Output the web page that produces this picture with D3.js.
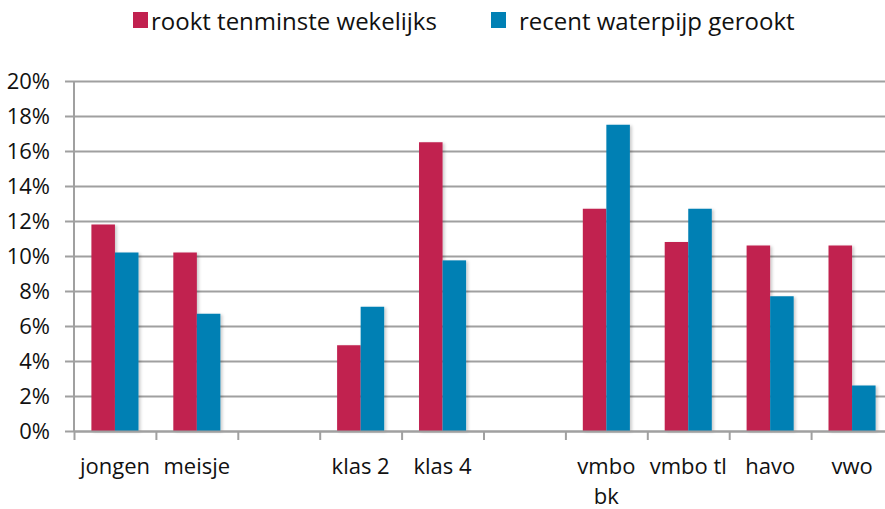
<!DOCTYPE html>
<html>
<head>
<meta charset="utf-8">
<script src="https://cdn.jsdelivr.net/npm/d3@7"></script>
<style>
  body { margin: 0; background: #fff; }
  text { font-family: "Open Sans", sans-serif; fill: #111; }
</style>
</head>
<body>
<svg id="chart" width="885" height="509"></svg>
<script>
// categories (empty strings are the gaps between groups)
var categories = ["jongen", "meisje", "", "klas 2", "klas 4", "", "vmbo bk", "vmbo tl", "havo", "vwo"];
var seriesNames = ["rookt tenminste wekelijks", "recent waterpijp gerookt"];
var rooktWekelijks = [11.8, 10.2, null, 4.9, 16.5, null, 12.7, 10.8, 10.6, 10.6];
var waterpijp = [10.2, 6.7, null, 7.1, 9.75, null, 17.5, 12.7, 7.7, 2.6];
var yTicks = [0, 2, 4, 6, 8, 10, 12, 14, 16, 18, 20];
var colors = ["#c1214f", "#0080b4"];

var svg = d3.select("#chart");

// plot area
var plotLeft = 74, plotRight = 893, plotTop = 81, plotBottom = 431;

var x = d3.scaleBand()
    .domain(d3.range(categories.length))
    .range([plotLeft, plotRight]);

var xSeries = d3.scaleBand()
    .domain([0, 1])
    .range([0, x.bandwidth()])
    .paddingOuter(0.74);

var xEdges = d3.scaleLinear()
    .domain([0, categories.length])
    .range([plotLeft, plotRight]);

var y = d3.scaleLinear()
    .domain([0, 20])
    .range([plotBottom, plotTop]);

// drop shadow for the bars
var f = svg.append("defs").append("filter").attr("id", "shadow")
    .attr("x", "-20%").attr("y", "-5%").attr("width", "150%").attr("height", "115%");
f.append("feDropShadow").attr("dx", 2).attr("dy", 1).attr("stdDeviation", 1.5)
    .attr("flood-color", "#000").attr("flood-opacity", 0.2);

// y axis + gridlines
var yAxis = svg.append("g")
    .attr("transform", "translate(" + plotLeft + ",0)")
    .call(d3.axisLeft(y).tickValues(yTicks)
        .tickFormat(function(d) { return d + "%"; })
        .tickSizeInner(-(885 - plotLeft)).tickSizeOuter(0).tickPadding(24));
yAxis.select(".domain").remove();
yAxis.selectAll(".tick line")
    .attr("x1", -9)
    .attr("stroke", "#a0a0a0")
    .attr("stroke-width", 2);
yAxis.selectAll(".tick text")
    .style("font-size", "22px");

// vertical axis line
svg.append("line")
    .attr("x1", plotLeft).attr("x2", plotLeft)
    .attr("y1", y(20)).attr("y2", plotBottom)
    .attr("stroke", "#a0a0a0").attr("stroke-width", 2);

// bars
var barData = [];
categories.forEach(function(c, i) {
  [rooktWekelijks, waterpijp].forEach(function(values, s) {
    if (values[i] != null) barData.push({ i: i, s: s, v: values[i] });
  });
});

svg.append("g").selectAll("rect")
    .data(barData)
    .join("rect")
    .attr("x", function(d) { return x(d.i) + xSeries(d.s); })
    .attr("width", xSeries.bandwidth())
    .attr("y", function(d) { return y(d.v); })
    .attr("height", function(d) { return plotBottom - y(d.v); })
    .attr("fill", function(d) { return colors[d.s]; })
    .attr("filter", "url(#shadow)");

// x axis: ticks on category edges
var xAxis = svg.append("g")
    .attr("transform", "translate(0," + plotBottom + ")")
    .call(d3.axisBottom(xEdges).ticks(categories.length).tickFormat("").tickSizeInner(9).tickSizeOuter(0));
xAxis.select(".domain").attr("stroke", "#a0a0a0").attr("stroke-width", 2);
xAxis.selectAll(".tick line").attr("stroke", "#a0a0a0").attr("stroke-width", 2);

// category labels (wrap "vmbo bk" like the original)
var labels = svg.append("g").selectAll("text")
    .data(categories)
    .join("text")
    .attr("x", function(d, i) { return x(i) + x.bandwidth() / 2; })
    .attr("y", 474)
    .attr("text-anchor", "middle")
    .style("font-size", "22px");
labels.each(function(d) {
  var t = d3.select(this);
  var lines = d === "vmbo bk" ? ["vmbo", "bk"] : [d];
  lines.forEach(function(l, k) {
    t.append("tspan").attr("x", t.attr("x")).attr("dy", k === 0 ? 0 : 30).text(l);
  });
});

// legend
var legendX = [133, 491];
var legend = svg.append("g").selectAll("g")
    .data(seriesNames)
    .join("g")
    .attr("transform", function(d, i) { return "translate(" + legendX[i] + ",12)"; });
legend.append("rect")
    .attr("width", 15).attr("height", 16)
    .attr("fill", function(d, i) { return colors[i]; });
legend.append("text")
    .attr("x", function(d, i) { return i === 0 ? 18 : 28; })
    .attr("y", 18)
    .style("font-size", "24px")
    .text(function(d) { return d; });
</script>
</body>
</html>
